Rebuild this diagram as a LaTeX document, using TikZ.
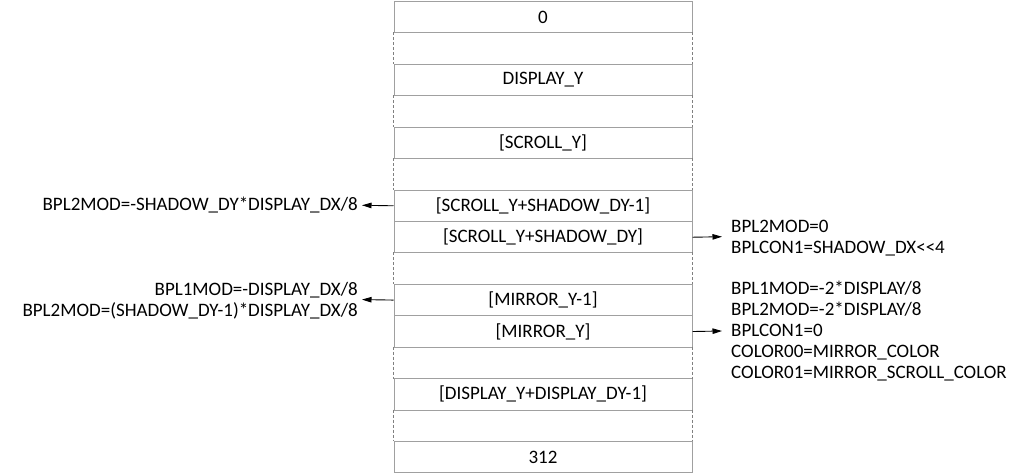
\documentclass[tikz,border=0pt]{standalone}
\usepackage{fontspec}
\setmainfont{Carlito}
\usetikzlibrary{arrows.meta}
\definecolor{gridgray}{HTML}{A0A0A0}
\begin{document}
\begin{tikzpicture}[x=1bp,y=-1bp,
  row/.style={minimum width=298bp,minimum height=31.43bp,inner sep=0pt,anchor=north,font=\fontsize{19bp}{21bp}\selectfont},
  solidrow/.style={row,draw=gridgray,line width=1bp},
  gaprow/.style={row},
  dside/.style={draw=gridgray!80!black,line width=1.2bp,dash pattern=on 3bp off 2bp},
  arr/.style={-{Triangle[length=9.5bp,width=5.5bp]},line width=0.9bp,black},
  lbl/.style={font=\fontsize{19bp}{21bp}\selectfont,inner sep=0pt,align=left}]
\useasboundingbox (0,0) rectangle (1024,474);
\def\rh{31.43}
\node[solidrow] (r0) at (543,{1+0*\rh}) {0};
\node[gaprow] (r1) at (543,{1+1*\rh}) {};
\node[solidrow] (r2) at (543,{1+2*\rh}) {DISPLAY\_Y};
\node[gaprow] (r3) at (543,{1+3*\rh}) {};
\node[solidrow] (r4) at (543,{1+4*\rh}) {[SCROLL\_Y]};
\node[gaprow] (r5) at (543,{1+5*\rh}) {};
\node[solidrow] (r6) at (543,{1+6*\rh}) {[SCROLL\_Y+SHADOW\_DY-1]};
\node[solidrow] (r7) at (543,{1+7*\rh}) {[SCROLL\_Y+SHADOW\_DY]};
\node[gaprow] (r8) at (543,{1+8*\rh}) {};
\node[solidrow] (r9) at (543,{1+9*\rh}) {[MIRROR\_Y-1]};
\node[solidrow] (r10) at (543,{1+10*\rh}) {[MIRROR\_Y]};
\node[gaprow] (r11) at (543,{1+11*\rh}) {};
\node[solidrow] (r12) at (543,{1+12*\rh}) {[DISPLAY\_Y+DISPLAY\_DY-1]};
\node[gaprow] (r13) at (543,{1+13*\rh}) {};
\node[solidrow] (r14) at (543,{1+14*\rh}) {312};
\foreach \r in {r1,r3,r5,r8,r11,r13}{
  \draw[dside] (\r.north west) -- (\r.south west);
  \draw[dside] (\r.north east) -- (\r.south east);
}
% left labels
\node[lbl,anchor=east] (l1) at (358,{1+6.5*\rh}) {BPL2MOD=-SHADOW\_DY*DISPLAY\_DX/8};
\node[lbl,anchor=east,align=right] (l2) at (358,{2+9.5*\rh}) {BPL1MOD=-DISPLAY\_DX/8\\BPL2MOD=(SHADOW\_DY-1)*DISPLAY\_DX/8};
\coordinate (a1) at (362,{1+6.5*\rh});
\coordinate (a2) at (362,{1+9.5*\rh});
\draw[arr] (r6.west) -- (a1);
\draw[arr] (r9.west) -- (a2);
% right labels
\node[lbl,anchor=west] (rl1) at (731,{2+7.5*\rh}) {BPL2MOD=0\\BPLCON1=SHADOW\_DX<{}<4};
\node[lbl,anchor=west] (rl2) at (731,{1+10.5*\rh}) {BPL1MOD=-2*DISPLAY/8\\BPL2MOD=-2*DISPLAY/8\\BPLCON1=0\\COLOR00=MIRROR\_COLOR\\COLOR01=MIRROR\_SCROLL\_COLOR};
\coordinate (b1) at (722,{1+7.5*\rh});
\coordinate (b2) at (722,{1+10.5*\rh});
\draw[arr] (r7.east) -- (b1);
\draw[arr] (r10.east) -- (b2);
\end{tikzpicture}
\end{document}
